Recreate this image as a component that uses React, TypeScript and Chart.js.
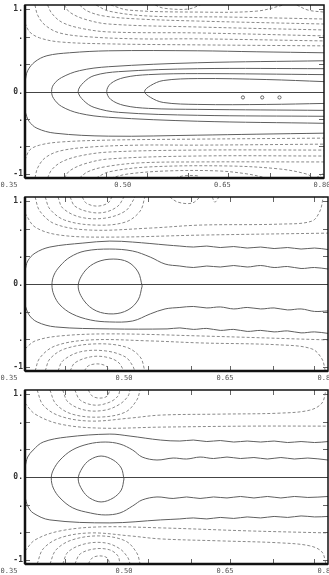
import React, { useEffect, useRef } from "react";
import { Chart, registerables } from "chart.js";
Chart.register(...registerables);

type Pt = [number, number];

const X_MIN = 0.35;
const X_MAX = 0.8;
const Y_MIN = -1.05;
const Y_MAX = 1.05;
const xTickValues = [0.35, 0.5, 0.65, 0.8];
const xTickLabels = ["0.35", "0.50", "0.65", "0.80"];
const xMinorTicks = [0.409, 0.472, 0.533, 0.596, 0.655, 0.718, 0.779];
const yTickValues = [1, 2 / 3, 1 / 3, 0, -1 / 3, -2 / 3, -1];
const yTickLabels = ["1.", ".", ".", "0.", ".", ".", "-1"];

// ---------- Panel 1 ----------
const p1Solid: Pt[][] = [
  [[0.350, 0.12], [0.354, 0.253], [0.365, 0.361], [0.383, 0.434], [0.417, 0.47], [0.476, 0.494], [0.610, 0.494], [0.699, 0.482], [0.800, 0.47]],
  [[0.350, -0.241], [0.356, -0.361], [0.368, -0.446], [0.395, -0.506], [0.476, -0.542], [0.610, -0.530], [0.699, -0.518], [0.800, -0.506]],
  [[0.800, 0.373], [0.610, 0.349], [0.476, 0.301], [0.432, 0.253], [0.405, 0.169], [0.393, 0.084], [0.390, 0], [0.393, -0.084], [0.405, -0.181], [0.432, -0.265], [0.476, -0.313], [0.610, -0.361], [0.800, -0.386]],
  [[0.800, 0.277], [0.610, 0.277], [0.491, 0.241], [0.454, 0.193], [0.438, 0.108], [0.430, 0], [0.438, -0.108], [0.454, -0.193], [0.491, -0.253], [0.610, -0.289], [0.800, -0.301]],
  [[0.800, 0.205], [0.610, 0.217], [0.536, 0.205], [0.499, 0.169], [0.479, 0.096], [0.473, 0], [0.479, -0.096], [0.499, -0.169], [0.536, -0.205], [0.610, -0.217], [0.800, -0.229]],
  [[0.800, 0.12], [0.714, 0.145], [0.610, 0.157], [0.558, 0.133], [0.539, 0.072], [0.530, 0], [0.539, -0.072], [0.558, -0.133], [0.610, -0.157], [0.714, -0.157], [0.800, -0.145]],
];
const p1Dashed: Pt[][] = [
  [[0.350, 0.831], [0.357, 0.723], [0.372, 0.651], [0.402, 0.602], [0.476, 0.578], [0.610, 0.566], [0.800, 0.554]],
  [[0.365, 1.05], [0.369, 0.928], [0.380, 0.807], [0.402, 0.711], [0.447, 0.663], [0.521, 0.639], [0.610, 0.639], [0.800, 0.614]],
  [[0.384, 1.05], [0.390, 0.952], [0.405, 0.843], [0.432, 0.771], [0.476, 0.723], [0.610, 0.711], [0.800, 0.675]],
  [[0.409, 1.05], [0.417, 0.964], [0.439, 0.88], [0.476, 0.819], [0.610, 0.783], [0.800, 0.747]],
  [[0.432, 1.05], [0.444, 0.976], [0.469, 0.916], [0.521, 0.88], [0.610, 0.855], [0.800, 0.819]],
  [[0.457, 1.05], [0.476, 0.976], [0.536, 0.916], [0.655, 0.904], [0.800, 0.88]],
  [[0.479, 1.05], [0.506, 0.988], [0.610, 0.964], [0.699, 0.976], [0.739, 1.05]],
  [[0.546, 1.05], [0.558, 1.012], [0.595, 1.0], [0.614, 1.05]],
  [[0.759, 1.05], [0.776, 0.988], [0.800, 0.964]],
  [[0.350, -0.831], [0.357, -0.711], [0.372, -0.651], [0.402, -0.614], [0.476, -0.59], [0.610, -0.578], [0.800, -0.566]],
  [[0.365, -1.05], [0.369, -0.928], [0.380, -0.807], [0.402, -0.723], [0.447, -0.675], [0.521, -0.651], [0.610, -0.651], [0.800, -0.639]],
  [[0.384, -1.05], [0.390, -0.952], [0.405, -0.855], [0.432, -0.783], [0.476, -0.735], [0.610, -0.711], [0.800, -0.711]],
  [[0.409, -1.05], [0.417, -0.964], [0.439, -0.88], [0.476, -0.819], [0.610, -0.783], [0.800, -0.783]],
  [[0.432, -1.05], [0.444, -0.976], [0.469, -0.916], [0.521, -0.867], [0.610, -0.855], [0.800, -0.855]],
  [[0.457, -1.05], [0.476, -0.976], [0.536, -0.916], [0.655, -0.904], [0.733, -0.94], [0.773, -1.0], [0.785, -1.05]],
  [[0.479, -1.05], [0.506, -1.0], [0.565, -0.964], [0.640, -0.964], [0.684, -1.0], [0.714, -1.05]],
  [[0.576, -1.05], [0.588, -1.024], [0.610, -1.024], [0.614, -1.05]],
  [[0.788, -1.05], [0.800, -0.988]],
];
const p1Dots: Pt[] = [[0.678, -0.072], [0.707, -0.072], [0.733, -0.072]];

// ---------- Panel 2 ----------
const p2Solid: Pt[][] = [
  [[0.524, -0.024], [0.518, 0.145], [0.503, 0.265], [0.481, 0.301], [0.457, 0.265], [0.439, 0.157], [0.429, -0.024], [0.438, -0.205], [0.456, -0.325], [0.481, -0.361], [0.503, -0.313], [0.518, -0.193], [0.524, -0.024]],
  [[0.800, 0.181], [0.780, 0.199], [0.760, 0.187], [0.740, 0.211], [0.720, 0.199], [0.700, 0.223], [0.680, 0.205], [0.660, 0.223], [0.640, 0.205], [0.620, 0.217], [0.600, 0.199], [0.580, 0.217], [0.558, 0.241], [0.536, 0.325], [0.510, 0.398], [0.476, 0.422], [0.439, 0.398], [0.417, 0.325], [0.402, 0.217], [0.393, 0.108], [0.390, -0.012], [0.393, -0.133], [0.402, -0.253], [0.420, -0.361], [0.447, -0.434], [0.476, -0.458], [0.510, -0.446], [0.536, -0.361], [0.558, -0.301], [0.580, -0.283], [0.600, -0.271], [0.620, -0.289], [0.640, -0.277], [0.660, -0.301], [0.680, -0.283], [0.700, -0.301], [0.720, -0.289], [0.740, -0.313], [0.760, -0.301], [0.780, -0.331], [0.800, -0.325]],
  [[0.350, 0.157], [0.354, 0.277], [0.365, 0.373], [0.387, 0.446], [0.436, 0.494], [0.476, 0.518], [0.510, 0.506], [0.561, 0.47], [0.580, 0.458], [0.600, 0.446], [0.620, 0.458], [0.640, 0.440], [0.660, 0.452], [0.680, 0.434], [0.700, 0.446], [0.720, 0.428], [0.740, 0.440], [0.760, 0.422], [0.780, 0.434], [0.800, 0.416]],
  [[0.350, -0.253], [0.356, -0.373], [0.368, -0.458], [0.395, -0.518], [0.476, -0.542], [0.561, -0.542], [0.580, -0.530], [0.600, -0.548], [0.620, -0.536], [0.640, -0.560], [0.660, -0.548], [0.680, -0.572], [0.700, -0.560], [0.720, -0.578], [0.740, -0.566], [0.760, -0.590], [0.780, -0.578], [0.800, -0.596]],
];
const p2Dashed: Pt[][] = [
  [[0.435, 1.05], [0.441, 0.976], [0.457, 0.94], [0.473, 0.976], [0.479, 1.05]],
  [[0.417, 1.05], [0.424, 0.94], [0.447, 0.867], [0.469, 0.867], [0.488, 0.94], [0.497, 1.05]],
  [[0.399, 1.05], [0.406, 0.916], [0.432, 0.807], [0.469, 0.795], [0.499, 0.88], [0.510, 1.0], [0.513, 1.05]],
  [[0.380, 1.05], [0.387, 0.904], [0.409, 0.771], [0.454, 0.711], [0.499, 0.747], [0.521, 0.88], [0.528, 1.05]],
  [[0.365, 1.05], [0.372, 0.88], [0.395, 0.723], [0.447, 0.651], [0.536, 0.675], [0.610, 0.711], [0.729, 0.723], [0.776, 0.759], [0.788, 0.88], [0.793, 1.05]],
  [[0.350, 0.855], [0.365, 0.687], [0.402, 0.59], [0.476, 0.566], [0.610, 0.59], [0.800, 0.614]],
  [[0.565, 1.05], [0.577, 0.988], [0.598, 0.976], [0.610, 1.05]],
  [[0.628, 1.05], [0.632, 0.988], [0.638, 1.05]],
  [[0.438, -1.05], [0.444, -0.988], [0.457, -0.964], [0.470, -0.988], [0.476, -1.05]],
  [[0.417, -1.05], [0.424, -0.952], [0.447, -0.88], [0.469, -0.88], [0.488, -0.94], [0.497, -1.05]],
  [[0.399, -1.05], [0.406, -0.928], [0.432, -0.819], [0.469, -0.807], [0.499, -0.88], [0.510, -0.988], [0.513, -1.05]],
  [[0.380, -1.05], [0.387, -0.904], [0.409, -0.783], [0.454, -0.723], [0.499, -0.759], [0.521, -0.88], [0.528, -1.05]],
  [[0.365, -1.05], [0.372, -0.892], [0.395, -0.747], [0.447, -0.675], [0.536, -0.687], [0.610, -0.711], [0.729, -0.735], [0.776, -0.783], [0.791, -0.904], [0.796, -1.05]],
  [[0.350, -0.783], [0.365, -0.687], [0.402, -0.627], [0.476, -0.602], [0.610, -0.627], [0.800, -0.675]],
];

// ---------- Panel 3 ----------
const p3Solid: Pt[][] = [
  [[0.497, -0.024], [0.493, 0.108], [0.481, 0.205], [0.463, 0.253], [0.446, 0.205], [0.435, 0.108], [0.429, -0.024], [0.435, -0.157], [0.446, -0.253], [0.463, -0.301], [0.481, -0.253], [0.493, -0.157], [0.497, -0.024]],
  [[0.800, 0.205], [0.770, 0.229], [0.750, 0.217], [0.730, 0.235], [0.710, 0.217], [0.690, 0.235], [0.670, 0.223], [0.650, 0.241], [0.630, 0.223], [0.610, 0.241], [0.590, 0.217], [0.570, 0.229], [0.546, 0.205], [0.524, 0.241], [0.510, 0.325], [0.491, 0.398], [0.469, 0.422], [0.444, 0.398], [0.420, 0.325], [0.402, 0.205], [0.392, 0.084], [0.389, -0.012], [0.392, -0.133], [0.402, -0.253], [0.421, -0.373], [0.447, -0.434], [0.469, -0.458], [0.491, -0.434], [0.510, -0.349], [0.524, -0.277], [0.546, -0.241], [0.570, -0.259], [0.590, -0.241], [0.610, -0.259], [0.630, -0.241], [0.650, -0.253], [0.670, -0.235], [0.690, -0.253], [0.710, -0.235], [0.730, -0.253], [0.750, -0.235], [0.770, -0.247], [0.800, -0.235]],
  [[0.350, 0.12], [0.354, 0.241], [0.362, 0.325], [0.377, 0.422], [0.412, 0.482], [0.476, 0.518], [0.506, 0.494], [0.551, 0.446], [0.580, 0.434], [0.600, 0.446], [0.620, 0.428], [0.640, 0.440], [0.660, 0.422], [0.680, 0.434], [0.700, 0.422], [0.720, 0.434], [0.740, 0.416], [0.760, 0.428], [0.780, 0.416], [0.800, 0.428]],
  [[0.350, -0.241], [0.354, -0.349], [0.362, -0.434], [0.387, -0.518], [0.476, -0.554], [0.551, -0.518], [0.580, -0.506], [0.600, -0.494], [0.620, -0.506], [0.640, -0.488], [0.660, -0.500], [0.680, -0.482], [0.700, -0.494], [0.720, -0.476], [0.740, -0.488], [0.760, -0.470], [0.780, -0.482], [0.800, -0.476]],
];
const p3Dashed: Pt[][] = [
  [[0.444, 1.05], [0.450, 0.976], [0.461, 0.952], [0.472, 0.976], [0.476, 1.05]],
  [[0.424, 1.05], [0.432, 0.928], [0.454, 0.867], [0.476, 0.904], [0.488, 0.976], [0.491, 1.05]],
  [[0.406, 1.05], [0.414, 0.904], [0.439, 0.807], [0.469, 0.807], [0.491, 0.88], [0.503, 0.976], [0.506, 1.05]],
  [[0.387, 1.05], [0.396, 0.88], [0.420, 0.759], [0.461, 0.723], [0.499, 0.783], [0.516, 0.928], [0.521, 1.05]],
  [[0.368, 1.05], [0.377, 0.867], [0.402, 0.735], [0.447, 0.675], [0.506, 0.711], [0.551, 0.747], [0.640, 0.759], [0.729, 0.771], [0.773, 0.807], [0.791, 0.892], [0.797, 1.05]],
  [[0.350, 0.892], [0.365, 0.759], [0.402, 0.639], [0.461, 0.59], [0.551, 0.602], [0.684, 0.614], [0.800, 0.614]],
  [[0.444, -1.05], [0.450, -0.976], [0.461, -0.952], [0.472, -0.976], [0.476, -1.05]],
  [[0.424, -1.05], [0.432, -0.928], [0.454, -0.867], [0.476, -0.88], [0.488, -0.952], [0.491, -1.05]],
  [[0.406, -1.05], [0.414, -0.904], [0.439, -0.807], [0.469, -0.795], [0.491, -0.867], [0.503, -0.976], [0.506, -1.05]],
  [[0.387, -1.05], [0.396, -0.88], [0.420, -0.759], [0.461, -0.711], [0.499, -0.771], [0.516, -0.916], [0.521, -1.05]],
  [[0.368, -1.05], [0.377, -0.867], [0.402, -0.735], [0.447, -0.675], [0.506, -0.711], [0.551, -0.747], [0.640, -0.771], [0.729, -0.795], [0.773, -0.831], [0.791, -0.904], [0.797, -1.05]],
  [[0.350, -0.892], [0.365, -0.759], [0.402, -0.651], [0.461, -0.602], [0.551, -0.614], [0.684, -0.651], [0.800, -0.675]],
];

type PanelProps = {
  top: number;
  height: number;
  bottomPad: number;
  solid: Pt[][];
  dashed: Pt[][];
  dots?: Pt[];
};

function Panel({ top, height, bottomPad, solid, dashed, dots }: PanelProps) {
  const ref = useRef<HTMLCanvasElement>(null);
  useEffect(() => {
    if (!ref.current) return;
    const toData = (c: Pt[]) => c.map(([x, y]) => ({ x, y }));
    const datasets: any[] = [];
    solid.forEach((c) =>
      datasets.push({
        data: toData(c),
        showLine: true,
        borderColor: "#5f5f5f",
        borderWidth: 1,
        pointRadius: 0,
        tension: 0.35,
        fill: false,
      })
    );
    dashed.forEach((c) =>
      datasets.push({
        data: toData(c),
        showLine: true,
        borderColor: "#8a8a8a",
        borderWidth: 1,
        borderDash: [3, 2],
        pointRadius: 0,
        tension: 0.35,
        fill: false,
      })
    );
    if (dots) {
      datasets.push({
        data: toData(dots),
        showLine: false,
        pointRadius: 1.6,
        pointBorderWidth: 1,
        pointBorderColor: "#666",
        pointBackgroundColor: "rgba(0,0,0,0)",
      });
    }
    const decor = {
      id: "decor",
      afterDatasetsDraw(chart: any) {
        const { ctx, chartArea: a, scales } = chart;
        const xs = scales.x;
        const ys = scales.y;
        const line = (x1: number, y1: number, x2: number, y2: number) => {
          ctx.beginPath();
          ctx.moveTo(x1, y1);
          ctx.lineTo(x2, y2);
          ctx.stroke();
        };
        ctx.save();
        ctx.setLineDash([]);
        ctx.strokeStyle = "#444";
        ctx.lineWidth = 1;
        const y0 = Math.round(ys.getPixelForValue(0)) + 0.5;
        line(a.left, y0, a.right, y0);
        ctx.strokeStyle = "#666";
        xMinorTicks.forEach((v) => {
          const px = Math.round(xs.getPixelForValue(v)) + 0.5;
          line(px, a.top, px, a.top + 5);
          line(px, a.bottom, px, a.bottom - 5);
        });
        yTickValues.forEach((v) => {
          if (v === 0) return;
          const py = Math.round(ys.getPixelForValue(v)) + 0.5;
          line(a.left, py, a.left + 5, py);
          line(a.right, py, a.right - 5, py);
        });
        ctx.strokeStyle = "#111";
        ctx.lineWidth = 1.5;
        ctx.strokeRect(a.left, a.top, a.right - a.left, a.bottom - a.top);
        ctx.lineWidth = 2.5;
        line(a.left, a.top, a.left, a.bottom);
        line(a.left, a.bottom, a.right, a.bottom);
        ctx.fillStyle = "#555";
        ctx.font = '7px "DejaVu Sans Mono"';
        ctx.textAlign = "center";
        ctx.textBaseline = "middle";
        xTickValues.forEach((v, i) => {
          let px = xs.getPixelForValue(v) - 2;
          if (i === 0) px -= 14;
          ctx.fillText(xTickLabels[i], px, a.bottom + 7);
        });
        ctx.font = 'bold 8px "DejaVu Sans Mono"';
        ctx.fillStyle = "#333";
        ctx.textAlign = "right";
        yTickValues.forEach((v, i) => {
          const py = ys.getPixelForValue(v);
          ctx.fillText(yTickLabels[i], a.left - 2, py);
        });
        ctx.restore();
      },
    };
    const chart = new Chart(ref.current, {
      type: "scatter",
      data: { datasets },
      options: {
        responsive: false,
        animation: false,
        devicePixelRatio: 1,
        layout: { padding: { left: 25, right: 1, top: 4, bottom: bottomPad } },
        plugins: { legend: { display: false }, tooltip: { enabled: false } },
        scales: {
          x: { type: "linear", min: X_MIN, max: X_MAX, display: false },
          y: { type: "linear", min: Y_MIN, max: Y_MAX, display: false },
        },
      },
      plugins: [decor],
    } as any);
    return () => chart.destroy();
  }, []);
  return (
    <canvas
      ref={ref}
      width={329}
      height={height}
      style={{ position: "absolute", left: 0, top, width: 329, height }}
    />
  );
}

export default function App() {
  return (
    <div
      style={{
        position: "fixed",
        left: 0,
        top: 0,
        width: 329,
        height: 575,
        overflow: "hidden",
        background: "#fff",
      }}
    >
      <Panel top={0} height={193} bottomPad={15} solid={p1Solid} dashed={p1Dashed} dots={p1Dots} />
      <Panel top={193} height={193} bottomPad={15} solid={p2Solid} dashed={p2Dashed} />
      <Panel top={386} height={189} bottomPad={11} solid={p3Solid} dashed={p3Dashed} />
    </div>
  );
}
